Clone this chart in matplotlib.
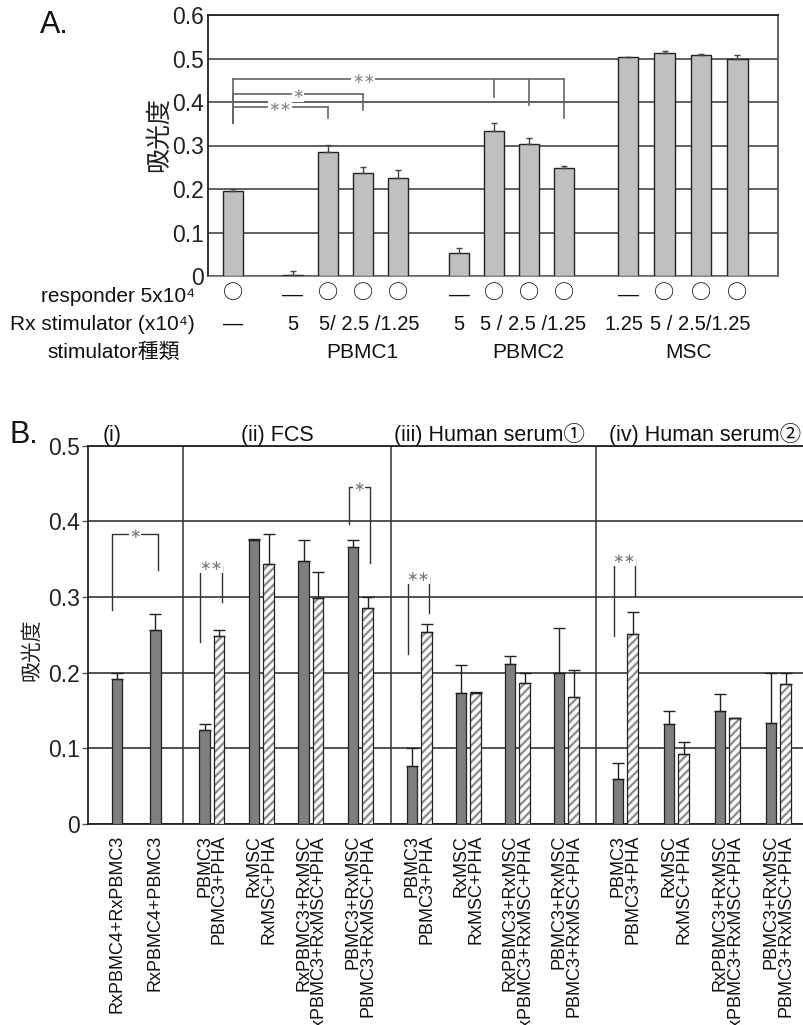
import matplotlib
matplotlib.use('Agg')
import matplotlib.pyplot as plt
import matplotlib.transforms as mtransforms
import numpy as np

plt.rcParams['font.family'] = ['Liberation Sans', 'Noto Sans CJK JP', 'DejaVu Sans']
plt.rcParams['hatch.linewidth'] = 1.7

# ---------------- Data: panel A ----------------
a_values = [0.195, 0.003, 0.284, 0.237, 0.225, 0.054, 0.334, 0.303, 0.248, 0.503, 0.513, 0.508, 0.500]
a_errors = [0.005, 0.008, 0.017, 0.013, 0.019, 0.011, 0.017, 0.015, 0.006, 0.000, 0.004, 0.002, 0.007]
a_responder = ['○', '—', '○', '○', '○', '—', '○', '○', '○', '—', '○', '○', '○']
a_stim_amounts = ['—', '5', '5/ 2.5 /1.25', '5', '5 / 2.5 /1.25', '1.25', '5 / 2.5/1.25']
a_stim_types = ['PBMC1', 'PBMC2', 'MSC']
a_yticks = [0, 0.1, 0.2, 0.3, 0.4, 0.5, 0.6]
a_ylabels = ['0', '0.1', '0.2', '0.3', '0.4', '0.5', '0.6']
a_row_titles = ['responder 5x10⁴', 'Rx stimulator (x10⁴)', 'stimulator種類']
# significance: (left bar, [drop bars], top y, left bottom y, [drop bottoms], text)
a_sig = [
    (0, [2], 0.388, 0.352, [0.363], '∗∗'),
    (0, [3], 0.418, 0.352, [0.382], '∗'),
    (0, [6, 7, 8], 0.453, 0.352, [0.412, 0.393, 0.363], '∗∗'),
]

# ---------------- Data: panel B ----------------
b_sections = ['(i)', '(ii) FCS', '(iii) Human serum①', '(iv) Human serum②']
b_i_labels = ['RxPBMC4+RxPBMC3', 'RxPBMC4+PBMC3']
b_i_values = [0.191, 0.256]
b_i_errors = [0.009, 0.022]
b_pair_labels = ['PBMC3', 'RxMSC', 'RxPBMC3+RxMSC', 'PBMC3+RxMSC']
b_pha_labels = ['PBMC3+PHA', 'RxMSC+PHA', 'RxPBMC3+RxMSC+PHA', 'PBMC3+RxMSC+PHA']
b_plain_values = [
    [0.124, 0.376, 0.348, 0.366],   # FCS
    [0.076, 0.173, 0.212, 0.200],   # Human serum 1
    [0.060, 0.132, 0.149, 0.133],   # Human serum 2
]
b_plain_errors = [
    [0.008, 0.001, 0.027, 0.010],
    [0.024, 0.037, 0.010, 0.059],
    [0.021, 0.017, 0.023, 0.066],
]
b_pha_values = [
    [0.249, 0.343, 0.299, 0.285],
    [0.254, 0.173, 0.186, 0.168],
    [0.251, 0.093, 0.140, 0.185],
]
b_pha_errors = [
    [0.007, 0.040, 0.034, 0.015],
    [0.010, 0.001, 0.014, 0.035],
    [0.029, 0.016, 0.000, 0.014],
]
b_yticks = [0, 0.1, 0.2, 0.3, 0.4, 0.5]
b_ylabels = ['0', '0.1', '0.2', '0.3', '0.4', '0.5']
# significance: (left ref, right ref, left bottom, top, right bottom, text)
b_sig = [
    (('i', 0), ('i', 1), 0.283, 0.383, 0.336, '∗'),
    ((0, 0, 'p'), (0, 0, 'h'), 0.241, 0.341, 0.294, '∗∗'),
    ((0, 3, 'p'), (0, 3, 'h'), 0.396, 0.446, 0.345, '∗'),
    ((1, 0, 'p'), (1, 0, 'h'), 0.225, 0.327, 0.279, '∗∗'),
    ((2, 0, 'p'), (2, 0, 'h'), 0.248, 0.350, 0.302, '∗∗'),
]

# ---------------- Figure ----------------
W, H = 804, 1025
fig = plt.figure(figsize=(W / 100, H / 100), dpi=100)


def fx(px):
    return px / W


def fy(py):
    return 1 - py / H


CJK = ['Noto Sans CJK JP', 'DejaVu Sans']
AST = ['DejaVu Sans']

# ================= Panel A =================
axA = fig.add_axes([fx(208), fy(276), fx(778 - 208), (276 - 15) / H])
a_pos = np.array([0.0] + [1.71 + k for k in range(4)] + [6.46 + k for k in range(4)]
                 + [11.29 + 1.04 * k for k in range(4)])
axA.bar(a_pos, a_values, width=0.58, color='#c0c0c0', edgecolor='#222222',
        linewidth=1.0, zorder=3)
axA.errorbar(a_pos, a_values, yerr=[np.zeros(len(a_values)), a_errors], fmt='none',
             ecolor='#444444', elinewidth=1.0, capsize=2.5, capthick=1.0, zorder=4)
axA.set_xlim(-0.71, 15.57)
axA.set_ylim(0, 0.6)
axA.set_yticks(a_yticks)
axA.set_yticklabels(a_ylabels, fontsize=16.5, color='#222222')
axA.set_xticks([])
axA.tick_params(axis='y', length=0, pad=3)
axA.yaxis.grid(True, color='#555555', linewidth=1.3)
axA.set_axisbelow(True)
axA.spines['top'].set_color('#222222')
axA.spines['top'].set_linewidth(1.3)
axA.spines['left'].set_color('#222222')
axA.spines['left'].set_linewidth(1.3)
axA.spines['right'].set_color('#555555')
axA.spines['right'].set_linewidth(1.3)
axA.spines['bottom'].set_color('#888888')
axA.spines['bottom'].set_linewidth(0.8)

for left, drops, ytop, ylb, dbots, txt in a_sig:
    xl = a_pos[left]
    xr = a_pos[drops[-1]]
    axA.plot([xl, xl], [ylb, ytop], color='#666666', lw=1.2, zorder=5)
    axA.plot([xl, xr], [ytop, ytop], color='#666666', lw=1.2, zorder=5)
    for d, yb in zip(drops, dbots):
        axA.plot([a_pos[d], a_pos[d]], [yb, ytop], color='#666666', lw=1.2, zorder=5)
    xm = (xl + a_pos[drops[0]]) / 2
    axA.text(xm, ytop, txt, ha='center', va='center', fontsize=10, color='#888888',
             family=AST, zorder=6, bbox=dict(facecolor='white', edgecolor='none', pad=0.3))

fig.text(fx(159), fy(135), '吸光度', rotation=90, ha='center', va='center',
         fontsize=18, color='#222222', family=CJK)
fig.text(fx(40), fy(33), 'A.', fontsize=22, color='#111111', va='baseline')

transA = mtransforms.blended_transform_factory(axA.transData, fig.transFigure)
row_base = [302, 330, 358]
row_centers = [118, 102, 114]
for t, cx, by in zip(a_row_titles, row_centers, row_base):
    fig.text(fx(cx), fy(by), t, ha='center', va='baseline', fontsize=15, color='#111111')
for xp, s in zip(a_pos, a_responder):
    if s == '○':
        axA.text(xp, fy(294), s, transform=transA, ha='center', va='center',
                 fontsize=14.5, color='#111111', clip_on=False, family=CJK)
    else:
        axA.text(xp, fy(295), s, transform=transA, ha='center', va='center',
                 fontsize=15, color='#111111', clip_on=False)
amount_x = [a_pos[0], a_pos[1], 3.89, a_pos[5], 8.57, 11.17, 13.34]
for xp, s in zip(amount_x, a_stim_amounts):
    axA.text(xp, fy(330), s, transform=transA, ha='center', va='baseline',
             fontsize=14.5, color='#111111', clip_on=False)
type_x = [3.69, 8.43, 13.0]
for xp, s in zip(type_x, a_stim_types):
    axA.text(xp, fy(358), s, transform=transA, ha='center', va='baseline',
             fontsize=15, color='#111111', clip_on=False)

# ================= Panel B =================
b_left = 88.3
b_unit = 50.0
axB = fig.add_axes([fx(b_left), fy(824), (812 - b_left) / W, (824 - 445.7) / H])
axB.set_xlim(0, (812 - b_left) / b_unit)
axB.set_ylim(0, 0.5)

i_pos = [0.574, 1.344]
dividers = [1.9, 6.05, 10.15]
sec_start = [1.9, 6.05, 10.17]
sec_step = [0.99, 0.98, 1.02]
half = 0.145
bw = 0.21

pair_centers = [[s + 0.57 + k * st for k in range(4)] for s, st in zip(sec_start, sec_step)]

tick_pos = list(i_pos)
tick_lab = list(b_i_labels)

dark = '#7f7f7f'
edge = '#222222'
axB.bar(i_pos, b_i_values, width=bw, color=dark, edgecolor=edge, linewidth=0.9, zorder=3)
axB.errorbar(i_pos, b_i_values, yerr=[[0, 0], b_i_errors], fmt='none', ecolor='#222222',
             elinewidth=1.0, capsize=4, capthick=1.0, zorder=4)

for si in range(3):
    pc = np.array(pair_centers[si])
    xp = pc - half
    xh = pc + half
    axB.bar(xp, b_plain_values[si], width=bw, color=dark, edgecolor=edge, linewidth=0.9, zorder=3)
    axB.bar(xh, b_pha_values[si], width=bw, color='white', edgecolor='#909090',
            hatch='////', linewidth=0, zorder=3)
    axB.bar(xh, b_pha_values[si], width=bw, fill=False, edgecolor=edge, linewidth=0.9, zorder=3)
    axB.errorbar(xp, b_plain_values[si], yerr=[np.zeros(4), b_plain_errors[si]], fmt='none',
                 ecolor='#222222', elinewidth=1.0, capsize=4, capthick=1.0, zorder=4)
    axB.errorbar(xh, b_pha_values[si], yerr=[np.zeros(4), b_pha_errors[si]], fmt='none',
                 ecolor='#222222', elinewidth=1.0, capsize=4, capthick=1.0, zorder=4)
    for k in range(4):
        tick_pos += [xp[k], xh[k]]
        tick_lab += [b_pair_labels[k], b_pha_labels[k]]

axB.set_xticks(tick_pos)
axB.set_xticklabels(tick_lab, rotation=90, fontsize=13, color='#111111')
axB.tick_params(axis='x', length=0, pad=8)
axB.set_yticks(b_yticks)
axB.set_yticklabels(b_ylabels, fontsize=16.5, color='#222222')
axB.tick_params(axis='y', length=4, width=1, color='#555555', pad=2)
axB.yaxis.grid(True, color='#444444', linewidth=1.3)
axB.set_axisbelow(True)
for sp in ['top', 'left', 'bottom']:
    axB.spines[sp].set_color('#222222')
    axB.spines[sp].set_linewidth(1.3)
axB.spines['right'].set_visible(False)
for d in dividers:
    axB.axvline(d, color='#333333', lw=1.1, zorder=2)


def bx(ref):
    if ref[0] == 'i':
        return i_pos[ref[1]]
    s, k, kind = ref
    c = pair_centers[s][k]
    return c - half if kind == 'p' else c + half


for lref, rref, ylb, ytop, yrb, txt in b_sig:
    xl = bx(lref) - 0.09
    xr = bx(rref) + 0.05
    axB.plot([xl, xl, xr, xr], [ylb, ytop, ytop, yrb], color='#333333', lw=1.0, zorder=5)
    axB.text((xl + xr) / 2, ytop, txt, ha='center', va='center', fontsize=10,
             color='#777777', family=AST, zorder=6,
             bbox=dict(facecolor='white', edgecolor='none', pad=0.2))

sec_title_x = [0.47, 3.79, 8.02, 12.33]
transB = mtransforms.blended_transform_factory(axB.transData, fig.transFigure)
for xp, s in zip(sec_title_x, b_sections):
    axB.text(xp, fy(441), s, transform=transB, ha='center', va='baseline',
             fontsize=15.5, color='#111111', clip_on=False)

fig.text(fx(31), fy(650), '吸光度', rotation=90, ha='center', va='center',
         fontsize=15, color='#222222', family=CJK)
fig.text(fx(10), fy(443), 'B.', fontsize=22, color='#111111', va='baseline')

fig.savefig('out.png', dpi=100)
